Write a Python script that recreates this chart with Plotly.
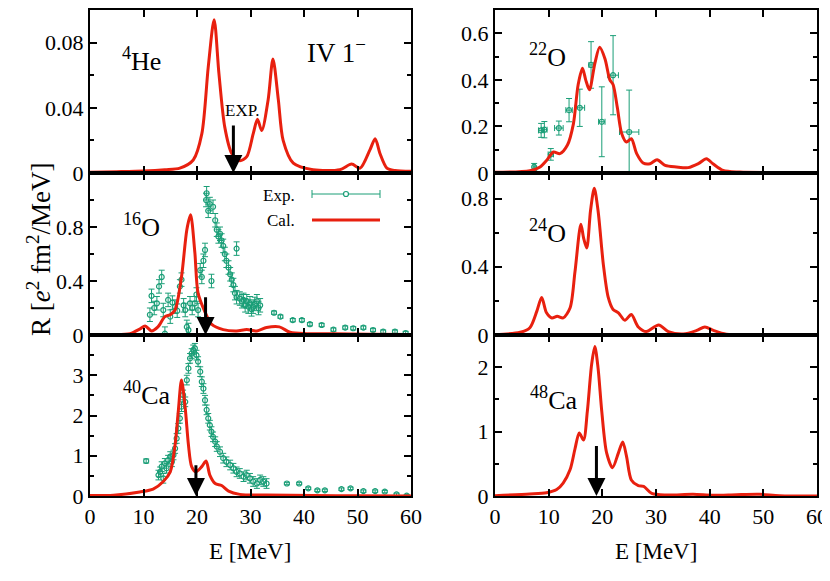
import plotly.graph_objects as go

# ---------------- data ----------------
he4_E = [0, 5, 10, 14, 16.8, 19.3, 20.9, 22.1, 23.2, 24.1, 25.2, 26.5, 28.0, 29.3, 30.5, 31.3, 32.1, 33.3, 34.2, 35.2, 36.1, 38.0, 41.7, 46.7, 48.9, 50.5, 52.3, 53.3, 54.2, 55.5, 57, 60]
he4_R = [0.0005, 0.0008, 0.0012, 0.002, 0.003, 0.008, 0.024, 0.065, 0.094, 0.061, 0.028, 0.012, 0.0075, 0.010, 0.024, 0.033, 0.026, 0.045, 0.070, 0.045, 0.020, 0.006, 0.002, 0.002, 0.0055, 0.003, 0.014, 0.021, 0.012, 0.003, 0.0015, 0.001]

o16_E = [0, 4, 7.5, 9.3, 10.3, 11.5, 12.7, 14.0, 15.0, 15.9, 17.1, 18.1, 18.8, 19.6, 20.2, 21.5, 22.7, 24.9, 27.4, 29.3, 31.2, 33.0, 35.4, 37.4, 40.5, 45.4, 52, 60]
o16_R = [0.002, 0.004, 0.01, 0.044, 0.067, 0.03, 0.06, 0.136, 0.15, 0.185, 0.43, 0.78, 0.89, 0.61, 0.31, 0.17, 0.08, 0.04, 0.03, 0.04, 0.03, 0.055, 0.06, 0.02, 0.01, 0.01, 0.006, 0.004]

o16x_E = [11.2, 11.5, 12.0, 12.5, 12.9, 13.4, 13.7, 14.0, 14.6, 15.0, 15.4, 15.9, 16.3, 16.8, 17.1, 17.5, 17.8, 18.1, 18.4, 18.7, 19.1, 19.6, 19.9, 20.2, 20.6, 20.9, 21.2, 21.5, 21.7, 21.8, 22.1, 22.4, 22.7, 23.0, 23.4, 23.7, 24.0, 24.3, 24.6, 24.9, 25.2, 25.5, 25.9, 26.2, 26.5, 26.8, 27.1, 27.4, 27.4, 28.0, 28.4, 28.7, 29.0, 29.3, 29.6, 29.9, 30.2, 30.5, 30.8, 31.2, 31.5, 31.8, 34.4, 35.6, 37.9, 39.6, 41.1, 43.3, 45.5, 47.7, 49.2, 51.1, 52.9, 54.8, 57.0, 59.0]
o16x_R = [0.15, 0.29, 0.20, 0.235, 0.36, 0.43, 0.185, 0.01, 0.26, 0.136, 0.24, 0.21, 0.18, 0.36, 0.41, 0.22, 0.185, 0.06, 0.037, 0.235, 0.20, 0.235, 0.30, 0.185, 0.48, 0.43, 0.55, 0.63, 1.0, 1.05, 0.92, 0.97, 0.40, 0.95, 0.85, 0.78, 0.73, 0.75, 0.70, 0.66, 0.60, 0.55, 0.50, 0.45, 0.41, 0.37, 0.31, 0.28, 0.64, 0.27, 0.25, 0.26, 0.22, 0.25, 0.21, 0.235, 0.19, 0.21, 0.23, 0.25, 0.20, 0.22, 0.165, 0.136, 0.11, 0.11, 0.08, 0.074, 0.04, 0.055, 0.05, 0.055, 0.037, 0.025, 0.025, 0.015]
o16x_err = [0.05] * 62 + [0.012] * 14

ca40_E = [0, 4.4, 9.3, 11.8, 13.7, 15.0, 15.9, 16.5, 17.1, 17.8, 18.4, 19.0, 19.8, 20.9, 21.7, 22.4, 23.4, 24.6, 25.9, 28.0, 33.0, 41.7, 50, 60]
ca40_R = [0.01, 0.02, 0.1, 0.17, 0.36, 0.6, 1.27, 2.1, 2.88, 2.18, 1.27, 0.73, 0.6, 0.73, 0.87, 0.52, 0.31, 0.26, 0.12, 0.04, 0.025, 0.01, 0.005, 0.0]

ca40x_E = [10.5, 12.8, 13.1, 13.4, 13.7, 14.0, 14.3, 14.6, 15.0, 15.3, 15.6, 15.9, 16.2, 16.5, 16.8, 17.1, 17.4, 17.8, 18.1, 18.4, 18.7, 19.0, 19.3, 19.6, 19.9, 20.2, 20.6, 20.9, 21.2, 21.5, 21.8, 22.1, 22.4, 22.7, 23.0, 23.4, 23.7, 24.3, 24.9, 25.5, 26.2, 26.8, 27.4, 28.0, 28.7, 29.3, 29.9, 30.5, 31.2, 31.8, 32.4, 33.0, 36.8, 39.1, 40.8, 42.5, 43.9, 47.0, 48.7, 51.1, 53.3, 55.1, 57.3, 59.2]
ca40x_R = [0.87, 0.52, 0.60, 0.73, 0.44, 0.81, 0.69, 0.89, 0.98, 0.85, 1.02, 1.18, 1.43, 1.68, 1.93, 2.22, 2.51, 2.34, 2.88, 3.17, 3.42, 3.54, 3.63, 3.67, 3.50, 3.34, 3.09, 2.84, 2.67, 2.38, 2.14, 1.93, 1.76, 1.60, 1.47, 1.35, 1.23, 1.10, 0.94, 0.85, 0.77, 0.69, 0.60, 0.56, 0.48, 0.52, 0.44, 0.36, 0.31, 0.40, 0.36, 0.31, 0.31, 0.31, 0.19, 0.14, 0.14, 0.17, 0.19, 0.12, 0.12, 0.11, 0.04, 0.01]
ca40x_err = [0.05] + [0.12] * 51 + [0.03] * 12

o22_E = [0, 6.5, 8.4, 9.6, 10.9, 12.1, 13.5, 14.6, 15.5, 16.3, 16.9, 17.6, 18.6, 19.5, 20.5, 21.4, 22.0, 22.8, 23.6, 24.5, 25.4, 26.4, 27.6, 28.9, 30.2, 31.7, 33.8, 36.0, 37.9, 39.4, 40.6, 42.5, 45.6, 52, 60]
o22_R = [0.003, 0.01, 0.026, 0.054, 0.09, 0.083, 0.12, 0.21, 0.38, 0.45, 0.40, 0.357, 0.47, 0.54, 0.49, 0.40, 0.38, 0.28, 0.17, 0.133, 0.147, 0.083, 0.043, 0.04, 0.057, 0.033, 0.026, 0.023, 0.04, 0.061, 0.04, 0.011, 0.004, 0.002, 0.001]

o22x_E = [7.3, 8.6, 9.2, 10.4, 11.9, 13.8, 15.8, 17.9, 19.9, 22.0, 25.0]
o22x_R = [0.026, 0.183, 0.186, 0.08, 0.193, 0.27, 0.28, 0.464, 0.22, 0.42, 0.176]
o22x_dR = [0.015, 0.03, 0.035, 0.025, 0.03, 0.05, 0.08, 0.1, 0.15, 0.17, 0.18]
o22x_dE = [0.2, 0.5, 0.5, 0.5, 0.8, 0.6, 0.9, 0.4, 0.6, 1.0, 1.8]

o24_E = [0, 4.7, 6.5, 7.8, 8.7, 9.6, 10.6, 11.6, 12.7, 14.0, 14.9, 16.0, 16.5, 17.1, 17.8, 18.5, 19.2, 20.2, 21.1, 22.0, 23.0, 24.2, 25.4, 26.7, 28.2, 30.5, 32.3, 35.1, 37.6, 39.1, 40.7, 43.1, 50, 60]
o24_R = [0.002, 0.016, 0.043, 0.14, 0.22, 0.13, 0.10, 0.11, 0.10, 0.16, 0.37, 0.65, 0.57, 0.51, 0.73, 0.86, 0.73, 0.41, 0.22, 0.15, 0.13, 0.086, 0.12, 0.047, 0.02, 0.059, 0.02, 0.006, 0.027, 0.047, 0.027, 0.005, 0.002, 0.001]

ca48_E = [0, 6.5, 9.6, 11.5, 12.7, 14.0, 14.9, 15.7, 16.5, 17.2, 18.0, 18.6, 19.2, 19.9, 20.8, 21.9, 23.0, 23.8, 24.5, 25.4, 26.7, 27.7, 29.2, 32.0, 36.9, 40.6, 45.0, 49.3, 53.0, 60]
ca48_R = [0.005, 0.03, 0.05, 0.1, 0.2, 0.41, 0.73, 0.98, 0.87, 1.31, 2.04, 2.32, 1.99, 1.31, 0.67, 0.44, 0.67, 0.84, 0.62, 0.25, 0.16, 0.15, 0.04, 0.016, 0.026, 0.01, 0.02, 0.026, 0.005, 0.0]

# experimental peak positions (arrows): (E, arrow top)
arrow_he4 = (26.8, 0.030)
arrow_o16 = (21.6, 0.29)
arrow_ca40 = (19.8, 0.80)
arrow_ca48 = (18.9, 0.80)

x_ticks = [0, 10, 20, 30, 40, 50, 60]
y_ranges = {1: [0, 0.1], 2: [0, 0.7], 3: [0, 1.2], 4: [0, 0.95], 5: [0, 4.0], 6: [0, 2.5]}
y_major = {1: [0, 0.04, 0.08], 2: [0, 0.2, 0.4, 0.6], 3: [0, 0.4, 0.8], 4: [0, 0.4, 0.8], 5: [0, 1, 2, 3], 6: [0, 1, 2]}
y_minor = {1: [0.02, 0.06, 0.1], 2: [0.1, 0.3, 0.5], 3: [0.2, 0.6, 1.0], 4: [0.2, 0.6], 5: [0.5, 1.5, 2.5, 3.5], 6: [0.5, 1.5]}
y_text = {1: ["0", "0.04", "0.08"], 2: ["0", "0.2", "0.4", "0.6"], 3: ["0", "0.4", "0.8"],
          4: ["0", "0.4", "0.8"], 5: ["0", "1", "2", "3"], 6: ["0", "1", "2"]}

# ---------------- style ----------------
RED = "#e8200f"
GREEN = "#1a9e77"
FONT = "Liberation Serif"
W, H = 830, 581
OFF = 8  # page body margin offset

colx = {0: (90, 411), 1: (495, 817)}
rowy = {0: (10, 173), 1: (173, 335), 2: (335, 496)}

def px(x):
    return (x - OFF) / W

def py(y):
    return 1 - (y - OFF) / H

fig = go.Figure()

panels = {1: (0, 0), 2: (1, 0), 3: (0, 1), 4: (1, 1), 5: (0, 2), 6: (1, 2)}

def ax(n):
    return ("x" if n == 1 else f"x{n}"), ("y" if n == 1 else f"y{n}")

def add_curve(n, E, R):
    xa, ya = ax(n)
    fig.add_trace(go.Scatter(x=E, y=R, mode="lines", line=dict(color=RED, width=3, shape="spline", smoothing=0.8),
                             xaxis=xa, yaxis=ya, showlegend=False, hoverinfo="skip"))

def add_exp(n, E, R, dR, dE=None):
    xa, ya = ax(n)
    kw = {}
    if dE is not None:
        kw["error_x"] = dict(type="data", array=dE, thickness=1, width=3, color=GREEN)
    fig.add_trace(go.Scatter(x=E, y=R, mode="markers",
                             marker=dict(symbol="circle-open", size=5, color=GREEN, line=dict(width=1.2, color=GREEN)),
                             error_y=dict(type="data", array=dR, thickness=1, width=3, color=GREEN),
                             xaxis=xa, yaxis=ya, showlegend=False, hoverinfo="skip", **kw))

add_curve(1, he4_E, he4_R)
add_exp(2, o22x_E, o22x_R, o22x_dR, o22x_dE)
add_curve(2, o22_E, o22_R)
add_exp(3, o16x_E, o16x_R, o16x_err)
add_curve(3, o16_E, o16_R)
add_curve(4, o24_E, o24_R)
add_exp(5, ca40x_E, ca40x_R, ca40x_err)
add_curve(5, ca40_E, ca40_R)
add_curve(6, ca48_E, ca48_R)

layout = dict(template="none", width=W, height=H, margin=dict(l=0, r=0, t=0, b=0, autoexpand=False),
              paper_bgcolor="white", plot_bgcolor="white", showlegend=False,
              font=dict(family=FONT, size=22, color="black"))

for n, (c, r) in panels.items():
    xa = "xaxis" if n == 1 else f"xaxis{n}"
    ya = "yaxis" if n == 1 else f"yaxis{n}"
    x0, x1 = colx[c]
    y0, y1 = rowy[r]
    xname, yname = ax(n)
    layout[xa] = dict(domain=[px(x0), px(x1)], range=[0, 60], anchor=yname, automargin=False,
                      tickvals=x_ticks, ticktext=[str(v) for v in x_ticks],
                      showticklabels=(r == 2), ticks="inside", ticklen=7, tickwidth=2, tickcolor="black",
                      showline=True, linewidth=2, linecolor="black", mirror="allticks",
                      showgrid=False, zeroline=False, tickfont=dict(size=22))
    layout[ya] = dict(domain=[py(y1), py(y0)], range=y_ranges[n], anchor=xname, automargin=False,
                      tickvals=y_major[n], ticktext=y_text[n],
                      ticks="inside", ticklen=7, tickwidth=2, tickcolor="black",
                      minor=dict(tickvals=y_minor[n], ticks="inside", ticklen=4, tickwidth=2, tickcolor="black"),
                      showline=True, linewidth=2, linecolor="black", mirror="allticks",
                      showgrid=False, zeroline=False, tickfont=dict(size=22))

fig.update_layout(**layout)

ann = []
def label(text, x, y, size=26, xanchor="center"):
    ann.append(dict(text=text, x=px(x), y=py(y), xref="paper", yref="paper", showarrow=False,
                    font=dict(family=FONT, size=size, color="black"), xanchor=xanchor, yanchor="middle"))

label("<sup>4</sup>He", 141, 60)
label("IV 1<sup>−</sup>", 336, 51, size=27)
label("EXP.", 242, 110, size=17)
label("<sup>16</sup>O", 141, 225)
label("<sup>40</sup>Ca", 147, 393)
label("<sup>22</sup>O", 547, 56)
label("<sup>24</sup>O", 547, 231)
label("<sup>48</sup>Ca", 554, 398)
label("Exp.", 297, 195, size=17, xanchor="right")
label("Cal.", 297, 220, size=17, xanchor="right")
label("E [MeV]", 250, 551, size=23)
label("E [MeV]", 656, 551, size=23)
ann.append(dict(text="R [<i>e</i><sup>2</sup> fm<sup>2</sup>/MeV]", x=px(20), y=py(250), xref="paper", yref="paper",
                showarrow=False, textangle=-90, font=dict(family=FONT, size=27, color="black")))

def arrow(n, a):
    xa, ya = ax(n)
    E, top = a
    ann.append(dict(x=E, y=0, ax=E, ay=top, xref=xa, yref=ya, axref=xa, ayref=ya, text="",
                    showarrow=True, arrowhead=2, arrowsize=1.2, arrowwidth=3, arrowcolor="black"))

arrow(1, arrow_he4)
arrow(3, arrow_o16)
arrow(5, arrow_ca40)
arrow(6, arrow_ca48)

fig.update_layout(annotations=ann)

# legend keys (drawn in paper space)
shapes = [
    dict(type="line", xref="paper", yref="paper", x0=px(312), x1=px(380), y0=py(194), y1=py(194), line=dict(color=GREEN, width=1)),
    dict(type="line", xref="paper", yref="paper", x0=px(312), x1=px(312), y0=py(190), y1=py(198), line=dict(color=GREEN, width=1)),
    dict(type="line", xref="paper", yref="paper", x0=px(380), x1=px(380), y0=py(190), y1=py(198), line=dict(color=GREEN, width=1)),
    dict(type="circle", xref="paper", yref="paper", x0=px(343.5), x1=px(348.5), y0=py(196.5), y1=py(191.5),
         line=dict(color=GREEN, width=1.2), fillcolor="white"),
    dict(type="line", xref="paper", yref="paper", x0=px(312), x1=px(380), y0=py(220), y1=py(220), line=dict(color=RED, width=3)),
]
fig.update_layout(shapes=shapes)

fig.write_html("out.html")
